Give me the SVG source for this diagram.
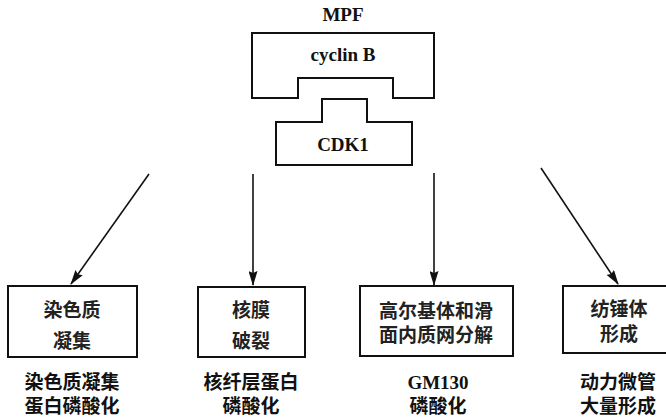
<svg xmlns="http://www.w3.org/2000/svg" width="666" height="420" viewBox="0 0 666 420">
<defs>
<marker id="ah" viewBox="0 0 15 9" refX="14" refY="4.5" markerWidth="15" markerHeight="9" markerUnits="userSpaceOnUse" orient="auto">
<path d="M0,0 L15,4.5 L0,9 L2,4.5 Z" fill="#111"/>
</marker>
<style>
.box{fill:none;stroke:#111;stroke-width:2}
.en{font-family:"Liberation Serif","DejaVu Serif",serif;font-weight:bold;fill:#111;text-anchor:middle}
.zh{font-family:"Noto Sans CJK SC","Noto Sans",sans-serif;font-size:19px;fill:#222;text-anchor:middle;font-weight:bold}
.zb{font-family:"Noto Sans CJK SC","Noto Sans",sans-serif;font-size:19px;fill:#111;text-anchor:middle;font-weight:bold}
.ar{stroke:#111;stroke-width:1.6;fill:none;marker-end:url(#ah)}
</style>
</defs>
<rect width="666" height="420" fill="#fff"/>
<g id="mpf">
<text class="en" x="343" y="21" font-size="19">MPF</text>
</g>
<g id="cyclinB">
<path class="box" d="M252,33 H434 V98 H393 V78 H298 V98 H252 Z"/>
<text class="en" x="343" y="61" font-size="19">cyclin B</text>
</g>
<g id="cdk1">
<path class="box" d="M322,99 H367 V122 H412 V165 H276 V122 H322 Z"/>
<text class="en" x="343" y="151" font-size="19">CDK1</text>
</g>
<g id="connectors">
<line class="ar" x1="149" y1="174" x2="71" y2="284"/>
<line class="ar" x1="253" y1="174" x2="253" y2="285"/>
<line class="ar" x1="434" y1="173" x2="434" y2="285"/>
<line class="ar" x1="541" y1="168" x2="618" y2="284"/>
</g>
<g id="node1">
<rect class="box" x="8" y="286" width="129" height="71"/>
<text class="zh" x="72" y="317">染色质</text>
<text class="zh" x="72" y="348">凝集</text>
<text class="zb" x="72" y="389">染色质凝集</text>
<text class="zb" x="72" y="413">蛋白磷酸化</text>
</g>
<g id="node2">
<rect class="box" x="198" y="287" width="107" height="70"/>
<text class="zh" x="251" y="317">核膜</text>
<text class="zh" x="251" y="348">破裂</text>
<text class="zb" x="251" y="389">核纤层蛋白</text>
<text class="zb" x="251" y="413">磷酸化</text>
</g>
<g id="node3">
<rect class="box" x="360" y="286" width="153" height="70"/>
<text class="zh" x="436" y="318">高尔基体和滑</text>
<text class="zh" x="436" y="342">面内质网分解</text>
<text class="en" x="438" y="389" font-size="19">GM130</text>
<text class="zb" x="438" y="413">磷酸化</text>
</g>
<g id="node4">
<rect class="box" x="563" y="286" width="106" height="67"/>
<text class="zh" x="619" y="316">纺锤体</text>
<text class="zh" x="619" y="341">形成</text>
<text class="zb" x="618" y="389">动力微管</text>
<text class="zb" x="618" y="413">大量形成</text>
</g>
</svg>
